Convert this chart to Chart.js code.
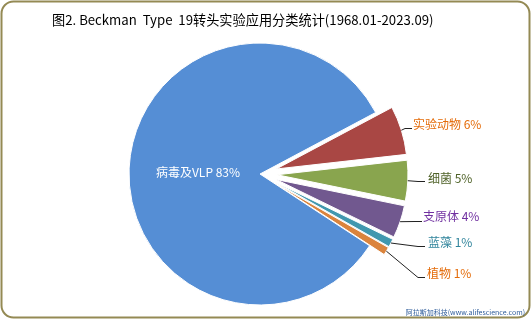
<!DOCTYPE html>
<html>
<head>
<meta charset="utf-8">
<script src="https://cdn.jsdelivr.net/npm/chart.js@4.4.0/dist/chart.umd.min.js"></script>
<style>
    body { margin: 0; background: #fff; }
    canvas { display: block; }
</style>
</head>
<body>
<canvas id="pie" width="532" height="320"></canvas>
<script>
// data
const categories = ['实验动物', '细菌', '支原体', '蓝藻', '植物', '病毒及VLP'];
const percents = [6, 5, 4, 1, 1, 83];
const titleText = '图2. Beckman  Type  19转头实验应用分类统计(1968.01-2023.09)';
const footText = '阿拉斯加科技(www.alifescience.com)';

const sliceColors = ['#A94744', '#89A54E', '#71588F', '#4198AF', '#DB843D', '#558ED5'];
const labelColors = ['#E46C0A', '#4F6228', '#7030A0', '#31859C', '#E46C0A', '#FFFFFF'];
// exploded slices are pushed out this many pixels (same radius, like excel)
const explode = [17, 17, 17, 17, 17, 0];

// label layout: text left/centre point and end of the leader line
const labelAt = [[413, 124], [428, 178], [423, 216], [428, 242], [427, 273], [198, 172]];
const leaderEnd = [[412, 128], [425, 181], [422, 221], [425, 246], [425, 277], null];

const FONT = '"Noto Sans CJK SC", "Noto Sans", sans-serif';

const midAngle = function (arc) {
    const p = arc.getProps(['startAngle', 'endAngle'], true);
    return (p.startAngle + p.endAngle) / 2;
};

const decorPlugin = {
    id: 'decor',
    beforeDraw(chart) {
        const ctx = chart.ctx;
        ctx.save();
        ctx.fillStyle = '#fff';
        ctx.fillRect(0, 0, chart.width, chart.height);
        ctx.restore();
    },
    beforeDatasetDraw(chart, args) {
        // draw the arcs ourselves so an exploded slice keeps its radius
        const ctx = chart.ctx;
        args.meta.data.forEach(function (arc, i) {
            const m = midAngle(arc);
            ctx.save();
            ctx.translate(Math.cos(m) * explode[i], Math.sin(m) * explode[i]);
            arc.draw(ctx);
            ctx.restore();
        });
        return false;
    },
    afterDraw(chart) {
        const ctx = chart.ctx;
        const arcs = chart.getDatasetMeta(0).data;
        ctx.save();

        // frame
        ctx.strokeStyle = '#948A54';
        ctx.lineWidth = 2;
        ctx.beginPath();
        ctx.roundRect(1.5, 1.5, 528, 316, 12);
        ctx.stroke();

        // title
        ctx.fillStyle = '#000';
        ctx.font = '13.2px ' + FONT;
        ctx.textBaseline = 'middle';
        ctx.textAlign = 'left';
        ctx.fillText(titleText, 52, 20);

        // slice labels
        ctx.font = '12px ' + FONT;
        arcs.forEach(function (arc, i) {
            const p = arc.getProps(['x', 'y', 'outerRadius'], true);
            const mid = midAngle(arc);
            const label = categories[i] + ' ' + percents[i] + '%';
            if (leaderEnd[i]) {
                const ax = p.x + Math.cos(mid) * (p.outerRadius + explode[i]);
                const ay = p.y + Math.sin(mid) * (p.outerRadius + explode[i]);
                const e = leaderEnd[i];
                ctx.strokeStyle = '#222';
                ctx.lineWidth = 1;
                ctx.beginPath();
                ctx.moveTo(ax, ay);
                ctx.lineTo(e[0] - 7, e[1] + 0.5);
                ctx.lineTo(e[0], e[1] + 0.5);
                ctx.stroke();
                ctx.textAlign = 'left';
            } else {
                ctx.textAlign = 'center';
            }
            ctx.fillStyle = labelColors[i];
            ctx.fillText(label, labelAt[i][0], labelAt[i][1]);
        });

        // footer
        ctx.fillStyle = '#2E5C9A';
        ctx.font = '7px ' + FONT;
        ctx.textAlign = 'right';
        ctx.fillText(footText, 525, 312);
        ctx.restore();
    }
};

new Chart(document.getElementById('pie'), {
    type: 'pie',
    data: {
        labels: categories,
        datasets: [{
            data: percents,
            backgroundColor: sliceColors,
            borderColor: '#fff',
            borderWidth: 1,
            clip: false
        }]
    },
    options: {
        responsive: false,
        animation: false,
        rotation: 62,
        radius: 131,
        layout: {padding: {left: 0, right: 12, top: 28, bottom: 0}},
        plugins: {
            legend: {display: false},
            title: {display: false},
            tooltip: {enabled: false}
        }
    },
    plugins: [decorPlugin]
});
</script>
</body>
</html>
